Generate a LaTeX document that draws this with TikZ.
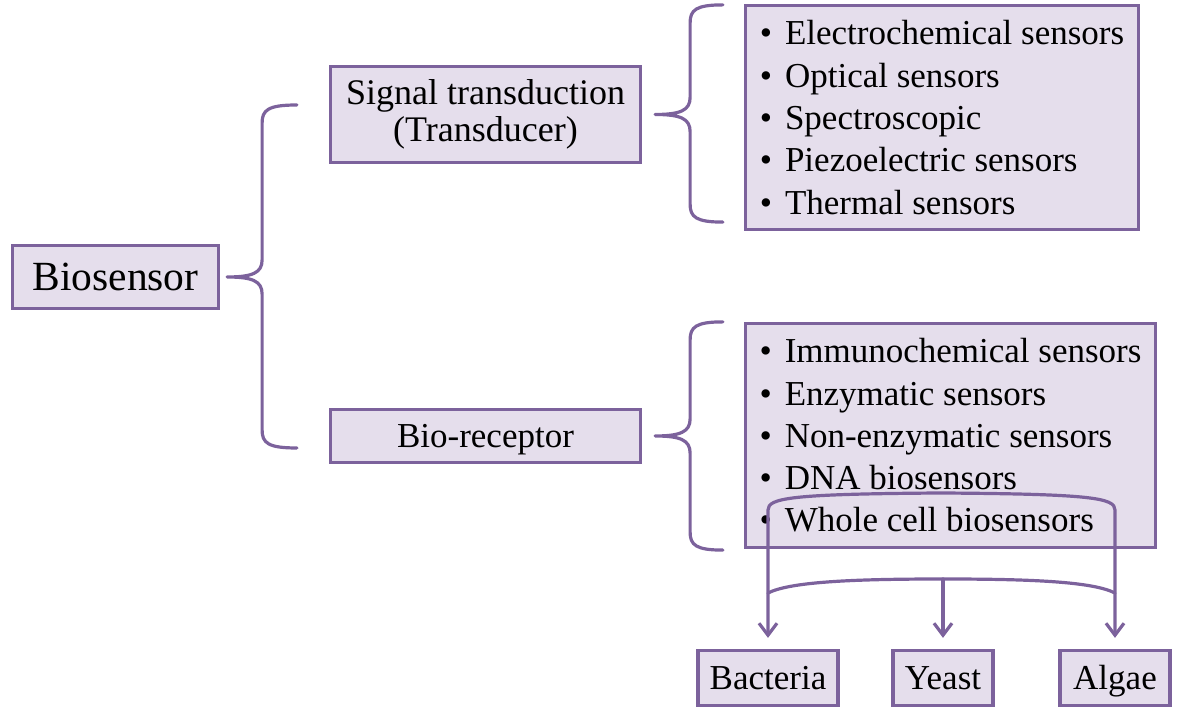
\documentclass[tikz,border=0pt]{standalone}
\usepackage{fontspec}
\setmainfont{Liberation Serif}
\usepackage{tikz}
\usetikzlibrary{calc,arrows.meta}
\definecolor{boxline}{HTML}{7C629C}
\definecolor{boxfill}{HTML}{E5DEEC}
\tikzset{
	box/.style={draw=boxline, fill=boxfill, line width=3.2pt, inner sep=0pt, align=center, font=\fontsize{35}{37}\selectfont},
	onebox/.style={box, text height=24pt, text depth=1pt},
	listbox/.style={box, align=left, font=\fontsize{35}{42.3}\selectfont},
	link/.style={draw=boxline, line width=3.2pt, line cap=round, line join=round},
	tip/.tip={Straight Barb[length=12pt,width=18pt,line join=miter]},
	barb/.style={-tip}
}
\def\curlybrace[#1]#2#3#4{\draw[#1] let \p1=(#2), \p2=(#3), \p3=(#4), \n1={\x1+35pt} in
	(\p2) .. controls (\n1+6pt,\y2) and (\n1,\y2-5pt) .. (\n1,\y2-18pt) -- (\n1,\y1+17pt)
	.. controls (\n1,\y1+4pt) and (\n1-10pt,\y1) .. (\p1)
	.. controls (\n1-10pt,\y1) and (\n1,\y1-4pt) .. (\n1,\y1-17pt) -- (\n1,\y3+18pt)
	.. controls (\n1,\y3+5pt) and (\n1+6pt,\y3) .. (\p3);}

\begin{document}
\begin{tikzpicture}[x=1pt, y=1pt]
			%%%%% START %%%%%
			\useasboundingbox (0,0) rectangle (1181,708);
			
			\node[box, minimum width=206, minimum height=63, text height=28pt, text depth=0.5pt, font=\fontsize{41.5}{44}\selectfont] (bio) at (115.5,431) {Biosensor};
			
			\node[box, minimum width=310, minimum height=96, font=\fontsize{36}{37}\selectfont] (sig) at (485.5,593.5) {Signal transduction\\(Transducer)};
			\node[onebox, minimum width=310, minimum height=53] (rec) at (485.5,272) {Bio-receptor};
			
			\node[listbox, minimum width=393, minimum height=224] (tlist) at (942,590.5) {%
				\textbullet\hspace{13pt}Electrochemical sensors\\
				\textbullet\hspace{13pt}Optical sensors\\
				\textbullet\hspace{13pt}Spectroscopic\\
				\textbullet\hspace{13pt}Piezoelectric sensors\\
				\textbullet\hspace{13pt}Thermal sensors};
			\node[listbox, minimum width=410, minimum height=224] (rlist) at (950.5,272.5) {%
				\textbullet\hspace{13pt}Immunochemical sensors\\
				\textbullet\hspace{13pt}Enzymatic sensors\\
				\textbullet\hspace{13pt}Non-enzymatic sensors\\
				\textbullet\hspace{13pt}DNA biosensors\\
				\textbullet\hspace{13pt}Whole cell biosensors};
			
			\node[onebox, minimum width=140, minimum height=55] (bact) at (768,30) {Bacteria};
			\node[onebox, minimum width=100, minimum height=55] (yeast) at (943,30) {Yeast};
			\node[onebox, minimum width=110, minimum height=55] (algae) at (1115,30) {Algae};
			
			% braces
			\curlybrace[link]{$(bio.east)+(7,0)$}{$(sig.west)+(-32,9.5)$}{$(rec.west)+(-32,-12)$}
			\curlybrace[link]{$(sig.east)+(13,0)$}{$(tlist.north west)+(-21,-1)$}{$(tlist.south west)+(-21,9)$}
			\curlybrace[link]{$(rec.east)+(13,0)$}{$(rlist.north west)+(-21,0)$}{$(rlist.south west)+(-21,-1)$}
			
			% whole cell split
			\coordinate (fork) at (yeast.north |- 0,129);
			\draw[link, tip-tip] ([yshift=11pt]bact.north) -- (768,198) .. controls (768,210) and (790,214) .. (941,215)
				.. controls (1092,214) and (1115,210) .. (1115,198) -- ([yshift=11pt]algae.north);
			\draw[link] (768,115) .. controls (790,126) and (850,129) .. (fork) .. controls (1036,129) and (1093,126) .. (1115,115);
			\draw[link, barb] (fork) -- ([yshift=11pt]yeast.north);
			
			%%%%% END %%%%%
\end{tikzpicture}
\end{document}
